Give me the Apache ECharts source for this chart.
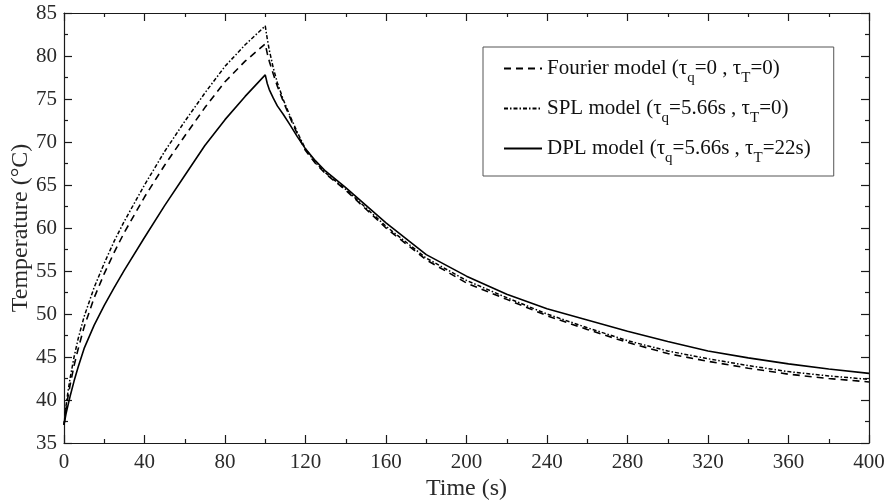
<!DOCTYPE html>
<html>
<head>
<meta charset="utf-8">
<script src="https://cdn.jsdelivr.net/npm/echarts@6/dist/echarts.min.js"></script>
<style>
html,body{margin:0;padding:0;background:#fff;}
#chart{width:888px;height:504px;}
</style>
</head>
<body>
<div id="chart"></div>
<script>
const times = [0,1,2,3,5,7,10,15,20,25,30,40,50,60,70,80,90,100,101,102,104,106,109,112,116,120,125,130,140,160,180,200,220,240,260,280,300,320,340,360,380,400];
const fourierT = [37.1,39.0,40.4,41.7,44.0,45.9,48.5,51.9,54.7,57.2,59.5,63.6,67.3,70.7,74.0,77.0,79.4,81.4,80.3,79.4,77.9,76.5,74.7,73.0,70.9,69.0,67.5,66.3,64.4,60.0,56.3,53.6,51.7,49.8,48.2,46.7,45.4,44.5,43.7,43.0,42.5,42.1];
const splT = [37.1,39.3,41.0,42.5,45.0,47.1,49.7,53.1,55.9,58.5,60.8,65.0,68.9,72.4,75.7,78.8,81.3,83.5,82.0,80.7,78.6,76.9,74.9,73.2,71.1,69.2,67.6,66.4,64.5,60.2,56.5,53.9,51.9,50.0,48.4,46.9,45.7,44.8,44.0,43.3,42.8,42.4];
const dplT = [37.1,38.4,39.4,40.4,42.2,43.8,46.0,48.7,51.0,53.1,55.1,58.9,62.6,66.1,69.6,72.6,75.3,77.8,76.8,76.1,75.1,74.2,73.2,72.1,70.6,69.2,67.8,66.6,64.7,60.6,56.9,54.4,52.3,50.6,49.3,48.0,46.8,45.7,44.9,44.2,43.6,43.1];
const xTicks = {min:0, max:400, interval:40};
const yTicks = {min:35, max:85, interval:5};
const legendNames = ['Fourier','SPL','DPL'];

const FONT = '"Liberation Serif", "Times New Roman", serif';
const chart = echarts.init(document.getElementById('chart'), null, {renderer:'canvas'});
const pair = arr => times.map((t,i)=>[t, arr[i]]);

function axisCommon(showLabel, margin){
  return {
    axisLine:{show:true, onZero:false, lineStyle:{color:'#1a1a1a', width:1.2}},
    axisTick:{show:true, inside:true, length:8, lineStyle:{color:'#1a1a1a', width:1.2}},
    minorTick:{show:true, splitNumber:2, length:4, lineStyle:{color:'#1a1a1a', width:1.2}},
    splitLine:{show:false},
    minorSplitLine:{show:false},
    axisLabel:{show:showLabel, fontFamily:FONT, fontSize:21, color:'#2a2a2a', margin:margin},
    nameMoveOverlap:false
  };
}

const richStyles = {
  s:{fontFamily:FONT, fontSize:15, color:'#111', padding:[20,0,0,0]}
};
const legendText = {
  'Fourier':'Fourier model (τ{s|q}=0 , τ{s|T}=0)',
  'SPL':'SPL model (τ{s|q}=5.66s , τ{s|T}=0)',
  'DPL':'DPL model (τ{s|q}=5.66s , τ{s|T}=22s)'
};

chart.setOption({
  animation:false,
  backgroundColor:'#fff',
  grid:{left:64, right:19, top:13, bottom:61, containLabel:false, outerBoundsMode:'none'},
  xAxis:[
    Object.assign({type:'value', position:'bottom', min:xTicks.min, max:xTicks.max, interval:xTicks.interval,
      name:'Time (s)', nameLocation:'middle', nameGap:34,
      nameTextStyle:{fontFamily:FONT, fontSize:24, color:'#2a2a2a'}}, axisCommon(true, 9)),
    Object.assign({type:'value', position:'top', min:xTicks.min, max:xTicks.max, interval:xTicks.interval}, axisCommon(false, 8))
  ],
  yAxis:[
    Object.assign({type:'value', position:'left', min:yTicks.min, max:yTicks.max, interval:yTicks.interval,
      name:'Temperature (°C)', nameLocation:'middle', nameGap:31,
      nameTextStyle:{fontFamily:FONT, fontSize:24, color:'#2a2a2a'}}, axisCommon(true, 7)),
    Object.assign({type:'value', position:'right', min:yTicks.min, max:yTicks.max, interval:yTicks.interval}, axisCommon(false, 8))
  ],
  legend:{
    orient:'vertical', left:483, top:47,
    padding:[11,23,10,20], itemGap:12, itemWidth:38, itemHeight:14,
    borderColor:'#555', borderWidth:1,
    data:legendNames,
    formatter:name=>legendText[name],
    itemStyle:{opacity:0},
    textStyle:{fontFamily:FONT, fontSize:21, color:'#111', rich:richStyles},
    selectedMode:false
  },
  series:[
    {name:'Fourier', type:'line', data:pair(fourierT), symbol:'none', smooth:false,
      lineStyle:{color:'#000', width:1.6, type:[7,5]}, itemStyle:{color:'#000'}},
    {name:'SPL', type:'line', data:pair(splT), symbol:'none', smooth:false,
      lineStyle:{color:'#000', width:1.5, type:[4,2,1.5,2]}, itemStyle:{color:'#000'}},
    {name:'DPL', type:'line', data:pair(dplT), symbol:'none', smooth:false,
      lineStyle:{color:'#000', width:1.6, type:'solid'}, itemStyle:{color:'#000'}}
  ]
});
</script>
</body>
</html>
